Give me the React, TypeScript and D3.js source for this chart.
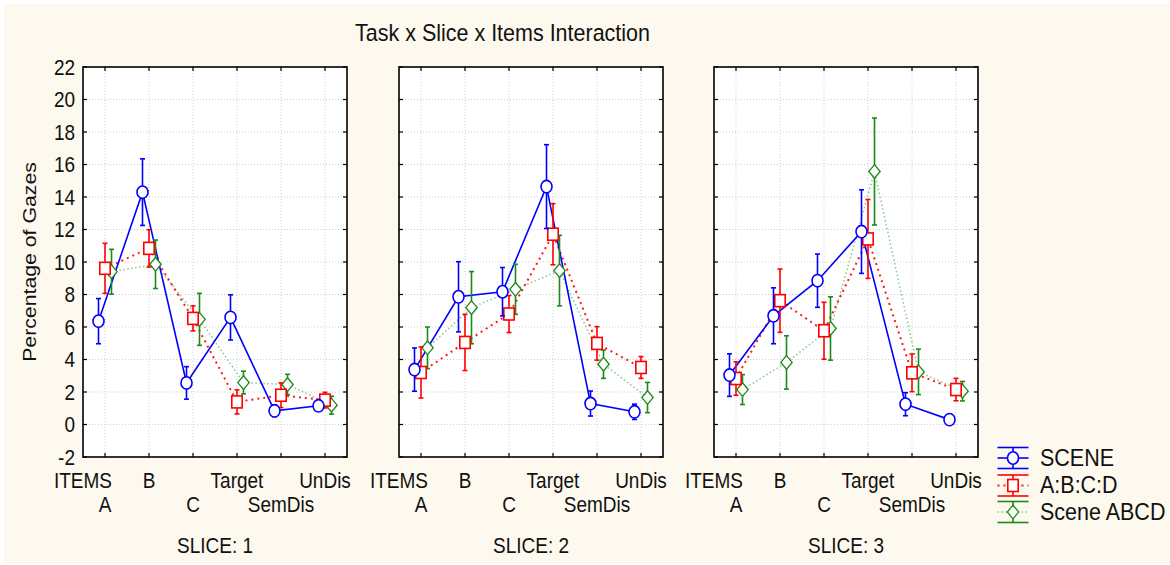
import * as d3 from "d3";

const ITEMS = ["A", "B", "C", "Target", "SemDis", "UnDis"];
const SLICES = ["SLICE: 1", "SLICE: 2", "SLICE: 3"];
const Y_TICKS = [-2, 0, 2, 4, 6, 8, 10, 12, 14, 16, 18, 20, 22];

// means and error half-widths, one row per slice
const sceneMean = [
  [6.36, 14.3, 2.56, 6.59, 0.84, 1.15],
  [3.38, 7.86, 8.17, 14.64, 1.29, 0.78],
  [3.04, 6.69, 8.85, 11.87, 1.25, 0.3],
];
const sceneErr = [
  [1.39, 2.05, 1.0, 1.39, 0.36, 0.28],
  [1.33, 2.16, 1.49, 2.58, 0.77, 0.47],
  [1.31, 1.72, 1.64, 2.57, 0.71, 0.05],
];
const abcdMean = [
  [9.61, 10.84, 6.53, 1.39, 1.8, 1.5],
  [3.2, 5.05, 6.8, 11.71, 4.99, 3.51],
  [2.83, 7.62, 5.77, 11.42, 3.18, 2.15],
];
const abcdErr = [
  [1.54, 1.15, 0.77, 0.74, 0.76, 0.48],
  [1.57, 1.73, 1.14, 1.88, 1.03, 0.67],
  [1.03, 1.95, 1.75, 2.43, 1.16, 0.69],
];
const sceneAbcdMean = [
  [9.4, 9.86, 6.47, 2.58, 2.46, 1.19],
  [4.72, 7.19, 8.32, 9.47, 3.71, 1.66],
  [2.15, 3.82, 5.91, 15.57, 3.24, 2.05],
];
const sceneAbcdErr = [
  [1.38, 1.49, 1.6, 0.7, 0.63, 0.55],
  [1.28, 2.22, 1.54, 2.17, 0.87, 0.93],
  [0.92, 1.64, 1.95, 3.29, 1.4, 0.6],
];

type Series = {
  name: string;
  mean: number[][];
  err: number[][];
  line: string;
  bar: string;
  width: number;
  dash?: string;
  marker: "circle" | "square" | "diamond";
  offset: number;
};

const series: Series[] = [
  { name: "SCENE", mean: sceneMean, err: sceneErr, line: "#0000ff", bar: "#0000ff", width: 1.6, marker: "circle", offset: -6.5 },
  { name: "A:B:C:D", mean: abcdMean, err: abcdErr, line: "#ff1a1a", bar: "#ff0000", width: 2, dash: "2,4", marker: "square", offset: 0 },
  { name: "Scene ABCD", mean: sceneAbcdMean, err: sceneAbcdErr, line: "#86c986", bar: "#1a8a1a", width: 1.5, dash: "1.5,2.5", marker: "diamond", offset: 6.5 },
];

const FONT = "'Liberation Sans', Arial, sans-serif";
const SY = 1.12; // the picture is a little stretched vertically

const panelLefts = [83, 399, 714];
const panelW = 264;
const top = 67;
const bottom = 457;

function Txt({ x, y, size = 19, anchor = "middle", children }: any) {
  return (
    <text
      transform={`translate(${x},${y}) scale(1,${SY})`}
      fontSize={size}
      fontFamily={FONT}
      textAnchor={anchor}
      fill="#111"
    >
      {children}
    </text>
  );
}

function Marker({ kind, x, y, color }: { kind: string; x: number; y: number; color: string }) {
  if (kind === "circle")
    return <ellipse cx={x} cy={y} rx={5.5} ry={6.2} fill="#fff" stroke={color} strokeWidth={1.6} />;
  if (kind === "square")
    return <rect x={x - 5.2} y={y - 6} width={10.4} height={12} fill="#fff" stroke={color} strokeWidth={1.6} />;
  return (
    <path
      d={`M${x},${y - 6.8}L${x + 5.7},${y}L${x},${y + 6.8}L${x - 5.7},${y}Z`}
      fill="#fff"
      stroke={color}
      strokeWidth={1.3}
    />
  );
}

function Panel({ idx }: { idx: number }) {
  const left = panelLefts[idx];
  const x = d3.scalePoint<string>().domain(ITEMS).range([left, left + panelW]).padding(0.5);
  const y = d3.scaleLinear().domain([-2, 22]).range([bottom, top]);
  const line = d3
    .line<number>()
    .x((_, i) => x(ITEMS[i])!)
    .y((d) => y(d));

  return (
    <g>
      <rect x={left} y={top} width={panelW} height={bottom - top} fill="#fff" />
      {/* grid */}
      {Y_TICKS.slice(1, -1).map((t) => (
        <line key={"gy" + t} x1={left} x2={left + panelW} y1={y(t)} y2={y(t)} stroke="#cfcfcf" strokeDasharray="1,2" />
      ))}
      {ITEMS.map((c) => (
        <line key={"gx" + c} x1={x(c)} x2={x(c)} y1={top} y2={bottom} stroke="#cfcfcf" strokeDasharray="1,2" />
      ))}
      {/* ticks inside on all sides */}
      {Y_TICKS.map((t) => (
        <g key={"ty" + t}>
          <line x1={left} x2={left + 4} y1={y(t)} y2={y(t)} stroke="#000" strokeWidth={1.2} />
          <line x1={left + panelW - 4} x2={left + panelW} y1={y(t)} y2={y(t)} stroke="#000" strokeWidth={1.2} />
        </g>
      ))}
      {ITEMS.map((c) => (
        <g key={"tx" + c}>
          <line x1={x(c)} x2={x(c)} y1={bottom} y2={bottom - 4} stroke="#000" strokeWidth={1.2} />
          <line x1={x(c)} x2={x(c)} y1={top} y2={top + 4} stroke="#000" strokeWidth={1.2} />
        </g>
      ))}
      {/* lines */}
      {series
        .slice()
        .reverse()
        .map((s) => (
          <path
            key={"l" + s.name}
            transform={`translate(${s.offset},0)`}
            d={line(s.mean[idx]) ?? ""}
            fill="none"
            stroke={s.line}
            strokeWidth={s.width}
            strokeDasharray={s.dash}
          />
        ))}
      {/* error bars and markers */}
      {series
        .slice()
        .reverse()
        .map((s) => (
          <g key={"m" + s.name}>
            {s.mean[idx].map((m, i) => {
              const cx = x(ITEMS[i])! + s.offset;
              const e = s.err[idx][i];
              return (
                <g key={i}>
                  <line x1={cx} x2={cx} y1={y(m + e)} y2={y(m - e)} stroke={s.bar} strokeWidth={1.6} />
                  <line x1={cx - 2.5} x2={cx + 2.5} y1={y(m + e)} y2={y(m + e)} stroke={s.bar} strokeWidth={1.6} />
                  <line x1={cx - 2.5} x2={cx + 2.5} y1={y(m - e)} y2={y(m - e)} stroke={s.bar} strokeWidth={1.6} />
                </g>
              );
            })}
            {s.mean[idx].map((m, i) => (
              <Marker key={"mk" + i} kind={s.marker} x={x(ITEMS[i])! + s.offset} y={y(m)} color={s.bar} />
            ))}
          </g>
        ))}
      <rect x={left} y={top} width={panelW} height={bottom - top} fill="none" stroke="#000" strokeWidth={1.6} />
      {/* y labels on first panel only */}
      {idx === 0 &&
        Y_TICKS.map((t) => (
          <Txt key={"yl" + t} x={left - 8} y={y(t) + 7.5} anchor="end">
            {t}
          </Txt>
        ))}
      {/* x labels staggered */}
      <Txt x={left} y={488}>ITEMS</Txt>
      {ITEMS.map((c, i) => (
        <Txt key={"xl" + c} x={x(c)} y={i % 2 === 0 ? 512 : 488}>
          {c}
        </Txt>
      ))}
      <Txt x={left + panelW / 2} y={553}>{SLICES[idx]}</Txt>
    </g>
  );
}

function Legend() {
  const cx = 1013;
  const rows = [458, 485.5, 512];
  return (
    <g>
      {series.map((s, i) => {
        const ry = rows[i];
        return (
          <g key={s.name}>
            <line x1={cx - 15.5} x2={cx + 15.5} y1={ry - 10.5} y2={ry - 10.5} stroke={s.bar} strokeWidth={1.6} />
            <line x1={cx - 15.5} x2={cx + 15.5} y1={ry + 10.5} y2={ry + 10.5} stroke={s.bar} strokeWidth={1.6} />
            <line x1={cx} x2={cx} y1={ry - 10.5} y2={ry + 10.5} stroke={s.bar} strokeWidth={1.6} />
            <line x1={cx - 15.5} x2={cx + 15.5} y1={ry} y2={ry} stroke={s.line} strokeWidth={s.width} strokeDasharray={s.dash} />
            <Marker kind={s.marker} x={cx} y={ry} color={s.bar} />
            <Txt x={1040} y={ry + 7.5} size={21.5} anchor="start">
              {s.name}
            </Txt>
          </g>
        );
      })}
    </g>
  );
}

export default function App() {
  return (
    <svg
      width={1170}
      height={565}
      style={{ position: "absolute", left: 0, top: 0, background: "#fff" }}
    >
      <rect x={4} y={4} width={1166} height={559} fill="#fdf9ee" />
      <Txt x={502.5} y={41} size={21.5}>Task x Slice x Items Interaction</Txt>
      <text
        transform={`translate(35.5,262) scale(1,${SY}) rotate(-90)`}
        fontSize={19}
        fontFamily={FONT}
        textAnchor="middle"
        fill="#111"
      >
        Percentage of Gazes
      </text>
      {SLICES.map((_, i) => (
        <Panel key={i} idx={i} />
      ))}
      <Legend />
    </svg>
  );
}
